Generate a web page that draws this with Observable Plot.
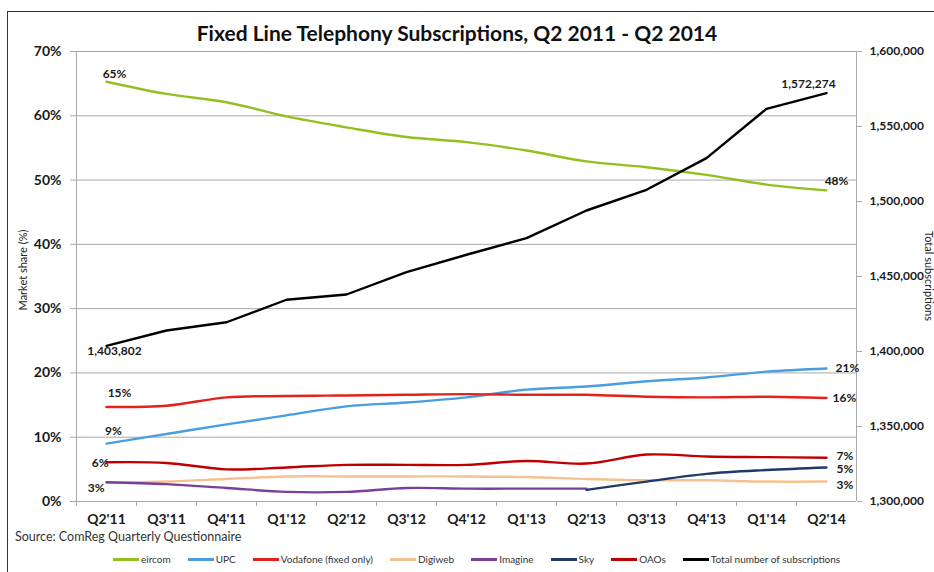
<!DOCTYPE html>
<html>
<head>
<meta charset="utf-8">
<script src="https://cdn.jsdelivr.net/npm/d3@7"></script>
<script src="https://cdn.jsdelivr.net/npm/@observablehq/plot@0.6"></script>
<style>
  html, body { margin: 0; padding: 0; background: #fff; }
  #wrap { position: relative; width: 934px; height: 572px; overflow: hidden; font-family: Lato, sans-serif; color: #1a1a1a; }
  #frame { position: absolute; left: 7px; top: 11px; width: 940px; height: 580px; border-left: 1px solid #333; border-top: 1px solid #333; }
  #title { position: absolute; left: 457px; top: 20px; transform: translateX(-50%); white-space: nowrap; font-weight: 700; font-size: 21px; color: #111; }
  #chart { position: absolute; left: 0; top: 0; }
  #ytitle { position: absolute; left: 22px; top: 270px; transform: translate(-50%, -50%) rotate(-90deg); font-size: 11px; white-space: nowrap; color: #222; }
  #y2title { position: absolute; left: 929px; top: 276px; transform: translate(-50%, -50%) rotate(90deg); font-size: 11px; white-space: nowrap; color: #222; }
  #source { position: absolute; left: 15px; top: 529px; font-size: 12.5px; color: #333; }
  #legend { position: absolute; left: 113px; top: 553px; display: flex; align-items: center; gap: 17px; font-size: 10px; color: #333; }
  .item { display: flex; align-items: center; gap: 2px; }
  .sw { width: 26px; height: 3px; }
</style>
</head>
<body>
<div id="wrap">
  <div id="frame"></div>
  <div id="chart"></div>
  <div id="title">Fixed Line Telephony Subscriptions, Q2 2011 - Q2 2014</div>
  <div id="ytitle">Market share (%)</div>
  <div id="y2title">Total subscriptions</div>
  <div id="source">Source: ComReg Quarterly Questionnaire</div>
  <div id="legend"></div>
</div>
<script>
// ---- data ----
const quarters = ["Q2'11","Q3'11","Q4'11","Q1'12","Q2'12","Q3'12","Q4'12","Q1'13","Q2'13","Q3'13","Q4'13","Q1'14","Q2'14"];
const eircom   = [65.3, 63.4, 62.1, 59.9, 58.2, 56.7, 55.9, 54.6, 52.9, 52.0, 50.8, 49.3, 48.4];
const upc      = [9.0, 10.5, 12.0, 13.4, 14.8, 15.4, 16.2, 17.4, 17.9, 18.7, 19.3, 20.2, 20.7];
const vodafone = [14.7, 14.9, 16.2, 16.4, 16.5, 16.6, 16.7, 16.6, 16.6, 16.3, 16.2, 16.3, 16.1];
const digiweb  = [2.9, 3.1, 3.5, 3.9, 3.9, 3.9, 3.9, 3.8, 3.5, 3.3, 3.3, 3.1, 3.1];
const imagine  = [3.0, 2.7, 2.1, 1.5, 1.5, 2.1, 2.0, 2.0, 2.0, null, null, null, null];
const sky      = [null, null, null, null, null, null, null, null, 1.8, 3.1, 4.3, 4.9, 5.3];
const oaos     = [6.1, 6.0, 5.0, 5.3, 5.7, 5.7, 5.7, 6.3, 5.9, 7.3, 7.0, 6.9, 6.8];
const total    = [1403802, 1414000, 1419500, 1434500, 1438000, 1452900, 1464500, 1475600, 1494000, 1507800, 1528900, 1561800, 1572274];

const seriesNames  = ["eircom", "UPC", "Vodafone (fixed only)", "Digiweb", "Imagine", "Sky", "OAOs"];
const seriesValues = [eircom, upc, vodafone, digiweb, imagine, sky, oaos];
const seriesColors = ["#92c01f", "#4a9de0", "#e3221b", "#f6c190", "#7b3f98", "#1f3a68", "#c00000"];
const totalName = "Total number of subscriptions";
const totalColor = "#000000";

const leftTicks  = [0, 10, 20, 30, 40, 50, 60, 70];
const rightTicks = [1300000, 1350000, 1400000, 1450000, 1500000, 1550000, 1600000];

// labels: [series index (-1 = total), quarter index, text]
const labels = [
  [0, 0, "65%"], [0, 12, "48%"],
  [-1, 0, "1,403,802"], [-1, 12, "1,572,274"],
  [2, 0, "15%"], [1, 0, "9%"], [6, 0, "6%"], [4, 0, "3%"],
  [1, 12, "21%"], [2, 12, "16%"], [6, 12, "7%"], [5, 12, "5%"], [3, 12, "3%"]
];
// label offsets (style only)
const labelStyle = [
  {dx: 8, dy: -8, anchor: "middle"}, {dx: 10, dy: -9, anchor: "middle"},
  {dx: 8, dy: 5, anchor: "middle"}, {dx: -18, dy: -9, anchor: "middle"},
  {dx: 13, dy: -14, anchor: "middle"}, {dx: 7, dy: -12, anchor: "middle"}, {dx: 2, dy: 1, anchor: "end"}, {dx: -2, dy: 6, anchor: "end"},
  {dx: 9, dy: 0, anchor: "start"}, {dx: 6, dy: 0, anchor: "start"}, {dx: 10, dy: -2, anchor: "start"}, {dx: 10, dy: 2, anchor: "start"}, {dx: 10, dy: 4, anchor: "start"}
];

// ---- secondary axis mapping onto the primary (percent) scale ----
const y2 = d3.scaleLinear().domain([1300000, 1600000]).range([0, 70]);
const fmt = d3.format(",");

// long tables
const shareRows = [];
seriesNames.forEach((name, s) => {
  quarters.forEach((q, i) => {
    shareRows.push({series: name, q, v: seriesValues[s][i]});
  });
});
const totalRows = quarters.map((q, i) => ({q, v: total[i]}));
const labelRows = labels.map(([s, i, text], k) => ({
  q: quarters[i],
  y: s < 0 ? y2(total[i]) : seriesValues[s][i],
  text, ...labelStyle[k]
}));

const bw = (934 - 75 - 78) / quarters.length;

const marks = [
  Plot.ruleY(leftTicks, {stroke: "#a8a8a8", strokeWidth: 1}),
  Plot.ruleX([quarters[0]], {dx: -bw / 2, stroke: "#a8a8a8"}),
  Plot.ruleX([quarters[quarters.length - 1]], {dx: bw / 2, stroke: "#a8a8a8"}),
  Plot.axisY(leftTicks, {anchor: "left", tickSize: 5, tickPadding: 9, stroke: "#a8a8a8",
    tickFormat: d => d + "%", fontSize: 14, fontWeight: "bold", fill: "#1a1a1a", label: null}),
  Plot.axisY(rightTicks.map(v => y2(v)), {anchor: "right", tickSize: 5, tickPadding: 8, stroke: "#a8a8a8",
    tickFormat: d => fmt(Math.round(y2.invert(d))), fontSize: 12, fontWeight: "bold", fill: "#1a1a1a", label: null}),
  Plot.axisX({tickSize: 5, dx: -bw / 2, tickFormat: () => "", stroke: "#a8a8a8", label: null}),
  Plot.axisX({tickSize: 0, tickPadding: 13, fontSize: 14, fontWeight: "bold", fill: "#1a1a1a", label: null}),
  ...seriesNames.map((name, s) => Plot.line(shareRows.filter(d => d.series === name), {
    x: "q", y: "v", stroke: seriesColors[s], strokeWidth: 2.4, curve: "catmull-rom"
  })),
  Plot.line(totalRows, {x: "q", y: d => y2(d.v), stroke: totalColor, strokeWidth: 2.4}),
  ...labelRows.map(d => Plot.text([d], {x: "q", y: "y", text: "text", dx: d.dx, dy: d.dy,
    textAnchor: d.anchor, fontSize: 12, fontWeight: "bold", fill: "#1a1a1a"}))
];

const chart = Plot.plot({
  width: 934,
  height: 530,
  marginLeft: 75,
  marginRight: 78,
  marginTop: 51,
  marginBottom: 29,
  style: {fontFamily: "Lato, sans-serif", background: "transparent", overflow: "visible"},
  x: {type: "band", domain: quarters, padding: 0},
  y: {domain: [0, 70]},
  marks
});
document.getElementById("chart").appendChild(chart);

// legend
const legend = document.getElementById("legend");
[...seriesNames.map((n, i) => [n, seriesColors[i]]), [totalName, totalColor]].forEach(([n, c]) => {
  const it = document.createElement("div");
  it.className = "item";
  it.innerHTML = `<span class="sw" style="background:${c}"></span><span>${n}</span>`;
  legend.appendChild(it);
});
</script>
</body>
</html>
